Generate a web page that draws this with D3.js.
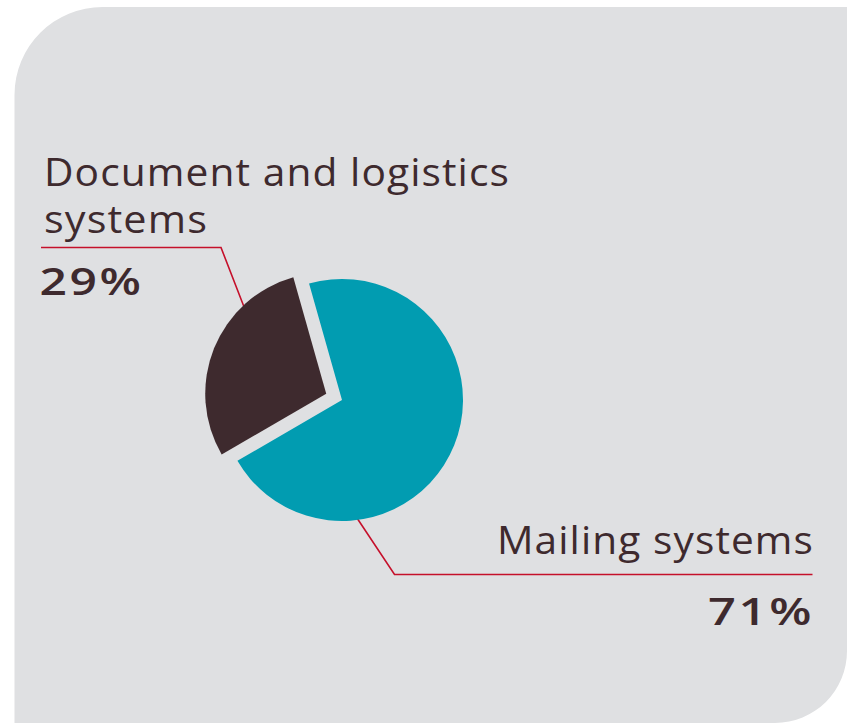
<!DOCTYPE html>
<html>
<head>
<meta charset="utf-8">
<script src="https://cdn.jsdelivr.net/npm/d3@7"></script>
<style>
  html, body { margin: 0; padding: 0; background: #ffffff; }
  svg { display: block; }
</style>
</head>
<body>
<svg id="chart" width="850" height="723"></svg>
<script>
// Revenue split by business line
const categories = ["Mailing systems", "Document and logistics systems"];
const values = [71, 29];
const valueLabels = ["71%", "29%"];
const colors = ["#019cb1", "#3e2a2e"];

const W = 850, H = 723;
const svg = d3.select("#chart");

// Panel with two rounded corners (top-left, bottom-right)
const px0 = 14.5, py0 = 7, px1 = 847, py1 = 723;
const rTL = 88, rBR = 72;
svg.append("path")
  .attr("d", [
    `M${px0},${py1}`,
    `L${px0},${py0 + rTL}`,
    `A${rTL},${rTL} 0 0 1 ${px0 + rTL},${py0}`,
    `L${px1},${py0}`,
    `L${px1},${py1 - rBR}`,
    `A${rBR},${rBR} 0 0 1 ${px1 - rBR},${py1}`,
    "Z"
  ].join(" "))
  .attr("fill", "#dfe0e2");

const cx = 342, cy = 400, radius = 121, explode = 17;
const deg = Math.PI / 180;
const start = -15.8 * deg;

const pie = d3.pie().sort(null).value(d => d)
  .startAngle(start).endAngle(start + 2 * Math.PI);
const arcs = pie(values);
const arc = d3.arc().innerRadius(0).outerRadius(radius);

const font = "'Open Sans', 'Noto Sans', sans-serif";
const textColor = "#3e2a2e";
const lineColor = "#c5102b";

// Leader lines (drawn first so slices sit on top)
const leaders = svg.append("g").attr("fill", "none")
  .attr("stroke", lineColor).attr("stroke-width", 1.6);
leaders.append("polyline")
  .attr("points", [[41, 247.5], [221, 247.5], [246, 312]].map(p => p.join(",")).join(" "));
leaders.append("polyline")
  .attr("points", [[355, 515], [394.5, 574.5], [812.5, 574.5]].map(p => p.join(",")).join(" "));

// Slices; the smaller one is pulled out along its mid angle
const g = svg.append("g").attr("transform", `translate(${cx},${cy})`);
g.selectAll("path")
  .data(arcs)
  .join("path")
  .attr("d", arc)
  .attr("fill", (d, i) => colors[i])
  .attr("transform", (d, i) => {
    if (i === 0) return null;
    const m = (d.startAngle + d.endAngle) / 2;
    return `translate(${explode * Math.sin(m)},${-explode * Math.cos(m)})`;
  });

// Labels, widened to a set length (trailing letter-spacing included)
const labels = svg.append("g").attr("fill", textColor).attr("font-family", font);
function label(str, x, y, len, bold) {
  const ls = bold ? 2 : 1;
  labels.append("text")
    .attr("x", x).attr("y", y)
    .attr("font-size", bold ? 37 : 37.5)
    .attr("font-weight", bold ? 600 : 400)
    .attr("letter-spacing", ls)
    .attr("textLength", len + ls)
    .attr("lengthAdjust", "spacingAndGlyphs")
    .text(str);
}
label("Document and logistics", 44, 186, 465, false);
label("systems", 44, 233, 163, false);
label(valueLabels[1], 39.5, 295, 102, true);

label(categories[0], 813 - 316, 553.5, 316, false);
label(valueLabels[0], 812 - 104, 625, 104, true);
</script>
</body>
</html>
